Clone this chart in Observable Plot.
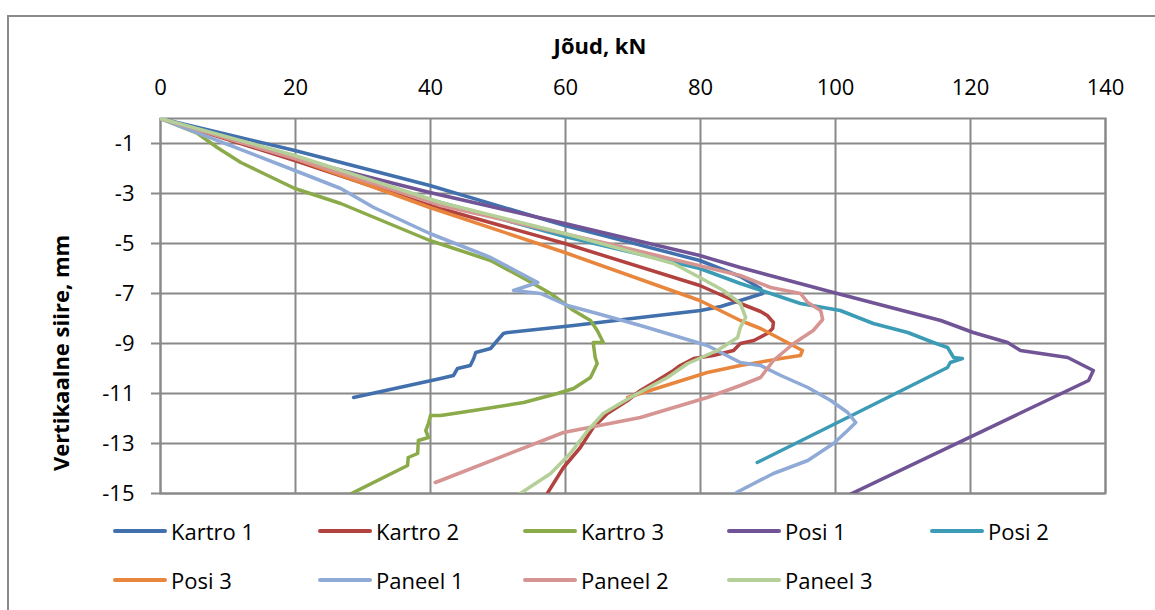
<!DOCTYPE html>
<html>
<head>
<meta charset="utf-8">
<script src="https://cdn.jsdelivr.net/npm/d3@7"></script>
<script src="https://cdn.jsdelivr.net/npm/@observablehq/plot@0.6"></script>
<style>
  html, body { margin: 0; padding: 0; background: #fff; overflow: hidden; width: 1155px; height: 610px; }
  body { position: relative; font-family: "Open Sans", sans-serif; color: #000; }
  #frame { position: absolute; left: 7px; top: 15px; width: 1300px; height: 800px; border: 2px solid #8a8a8a; box-sizing: border-box; }
  #chart { position: absolute; left: 0; top: 60px; }
  #xtitle { position: absolute; left: 0; width: 1200px; top: 30px; text-align: center; font-weight: bold; font-size: 22px; line-height: 30px; }
  #ytitle { position: absolute; left: 60px; top: 353px; transform: translate(-50%, -50%) rotate(-90deg); font-weight: bold; font-size: 22px; white-space: nowrap; line-height: 30px; }
  .leg { position: absolute; display: flex; align-items: center; font-size: 22px; line-height: 30px; white-space: nowrap; }
  .sw { width: 54px; height: 4px; margin-right: 4px; border-radius: 2px; }
</style>
</head>
<body>
<div id="frame"></div>
<div id="xtitle">Jõud, kN</div>
<div id="ytitle">Vertikaalne siire, mm</div>
<div id="chart"></div>
<div id="legend"></div>
<script>
// ---- data: [force kN, vertical displacement mm] ----
const seriesNames = ["Kartro 1", "Kartro 2", "Kartro 3", "Posi 1", "Posi 2", "Posi 3", "Paneel 1", "Paneel 2", "Paneel 3"];
const seriesColors = ["#4170ad", "#b2423f", "#8bab4a", "#705496", "#3c9cb6", "#e9863e", "#8faad6", "#d69492", "#b4cf97"];
const xTicks = [0, 20, 40, 60, 80, 100, 120, 140];
const yTicks = [-1, -3, -5, -7, -9, -11, -13, -15];

const kartro1 = [[0,0],[19.9,-1.28],[39.9,-2.68],[59.9,-4.28],[79.9,-5.68],[85.9,-6.32],[88.9,-6.8],[89.2,-7.0],[85.9,-7.28],[83.0,-7.52],[80.0,-7.68],[71.1,-7.96],[61.2,-8.28],[51.4,-8.56],[50.8,-8.6],[49.9,-8.88],[48.9,-9.2],[46.7,-9.36],[46.4,-9.6],[45.9,-9.88],[44.0,-10.0],[43.4,-10.28],[41.5,-10.4],[28.6,-11.16]];
const kartro2 = [[0,0],[19.9,-1.68],[39.9,-3.48],[59.9,-5.0],[79.9,-6.68],[85.9,-7.4],[88.9,-7.72],[89.9,-7.88],[90.8,-8.16],[90.7,-8.4],[89.9,-8.6],[87.9,-8.88],[85.9,-9.0],[84.9,-9.28],[81.9,-9.48],[79.0,-9.6],[77.0,-9.88],[76.0,-10.08],[73.6,-10.48],[71.1,-10.88],[69.2,-11.28],[66.2,-11.8],[64.1,-12.36],[62.2,-13.16],[59.7,-13.96],[57.3,-15.0],[56.7,-15.28]];
const kartro3 = [[0,0],[5.5,-0.6],[8.4,-1.16],[11.9,-1.76],[19.9,-2.8],[26.7,-3.4],[39.9,-4.88],[48.9,-5.68],[54.4,-6.48],[57.8,-7.0],[61.2,-7.68],[63.7,-8.08],[64.7,-8.48],[65.6,-8.96],[64.1,-8.96],[64.4,-9.56],[64.7,-9.8],[63.7,-10.36],[61.2,-10.8],[58.8,-11.0],[53.8,-11.36],[46.4,-11.68],[41.5,-11.88],[40.0,-11.88],[39.7,-12.2],[39.3,-12.48],[39.7,-12.76],[38.2,-12.88],[38.1,-13.4],[36.7,-13.56],[36.6,-13.88],[27.7,-15.08]];
const posi1 = [[0,0],[19.9,-1.6],[39.9,-2.96],[59.9,-4.2],[79.9,-5.48],[85.9,-5.96],[99.7,-6.96],[115.6,-8.08],[120.4,-8.56],[125.5,-8.96],[127.4,-9.28],[134.4,-9.56],[138.2,-10.08],[137.5,-10.48],[101.8,-15.08]];
const posi2 = [[0,0],[19.9,-1.52],[39.9,-3.24],[59.9,-4.72],[79.9,-6.0],[85.9,-6.6],[94.8,-7.4],[100.7,-7.68],[105.6,-8.2],[110.7,-8.56],[114.5,-8.96],[116.6,-9.16],[117.5,-9.56],[118.8,-9.6],[117.0,-9.76],[116.6,-9.96],[101.8,-11.96],[88.4,-13.76]];
const posi3 = [[0,0],[19.9,-1.6],[39.9,-3.56],[59.9,-5.36],[79.9,-7.28],[85.9,-8.08],[88.9,-8.4],[92.3,-8.88],[95.1,-9.28],[94.8,-9.48],[91.9,-9.6],[85.9,-9.88],[81.0,-10.16],[69.2,-11.16]];
const paneel1 = [[0,0],[19.9,-2.08],[26.7,-2.8],[31.6,-3.56],[39.9,-4.6],[48.9,-5.56],[55.9,-6.56],[52.3,-6.88],[56.3,-7.0],[60.3,-7.48],[64.7,-7.8],[71.1,-8.28],[81.0,-9.08],[85.9,-9.76],[88.9,-9.88],[91.9,-10.28],[95.9,-10.76],[99.3,-11.28],[101.8,-11.76],[103.0,-12.16],[101.8,-12.48],[99.7,-13.0],[95.9,-13.68],[90.8,-14.2],[85.9,-14.88],[84.1,-15.16]];
const paneel2 = [[0,0],[19.9,-1.6],[39.9,-3.32],[41.5,-3.48],[66.2,-5.0],[85.9,-6.28],[90.4,-6.76],[94.8,-7.0],[95.9,-7.36],[97.8,-7.68],[98.1,-8.04],[96.7,-8.48],[93.8,-9.0],[90.8,-9.68],[88.9,-10.36],[85.9,-10.68],[81.0,-11.16],[71.1,-11.96],[59.7,-12.56],[41.5,-14.48],[40.7,-14.56]];
const paneel3 = [[0,0],[19.9,-1.48],[41.5,-3.36],[59.9,-4.6],[76.0,-5.8],[79.9,-6.36],[83.4,-6.88],[85.9,-7.4],[86.7,-7.96],[85.9,-8.36],[85.5,-8.76],[82.5,-9.28],[78.1,-9.8],[75.1,-10.36],[69.6,-11.16],[65.6,-11.8],[63.3,-12.48],[60.7,-13.4],[57.8,-14.2],[53.3,-15.0],[52.1,-15.2]];

const seriesData = [kartro1, kartro2, kartro3, posi1, posi2, posi3, paneel1, paneel2, paneel3];

const rows = [];
seriesData.forEach((arr, i) => arr.forEach(([f, d]) => rows.push({series: seriesNames[i], force: f, disp: d})));

const gridColor = "#898989";
const chart = Plot.plot({
  width: 1155,
  height: 450,
  marginLeft: 160,
  marginRight: 50,
  marginTop: 58,
  marginBottom: 17,
  style: {fontFamily: "'Open Sans', sans-serif", fontSize: "22px", color: "#000", background: "transparent"},
  x: {domain: [0, 140]},
  y: {domain: [-15, 0]},
  color: {domain: seriesNames, range: seriesColors},
  marks: [
    Plot.gridX(xTicks, {stroke: gridColor, strokeOpacity: 1, strokeWidth: 2}),
    Plot.gridY(yTicks, {stroke: gridColor, strokeOpacity: 1, strokeWidth: 2}),
    Plot.frame({stroke: gridColor, strokeWidth: 2}),
    Plot.axisX({anchor: "top", ticks: xTicks, tickSize: 0, tickPadding: 24, label: null, tickFormat: d => String(d), fontSize: 22}),
    Plot.axisY({anchor: "left", ticks: yTicks, tickSize: 9, tickPadding: 17, label: null, tickFormat: d => String(d), stroke: gridColor, strokeWidth: 2, fontSize: 22}),
    Plot.line(rows, {x: "force", y: "disp", z: "series", stroke: "series", strokeWidth: 3.5, curve: "linear", clip: true, strokeLinejoin: "round", strokeLinecap: "round"})
  ]
});
document.getElementById("chart").appendChild(chart);

// legend
const legend = document.getElementById("legend");
const colX = [113, 318, 523, 727, 930];
const rowY = [531, 580];
seriesNames.forEach((name, i) => {
  const r = Math.floor(i / 5), c = i % 5;
  const item = document.createElement("div");
  item.className = "leg";
  item.style.left = colX[c] + "px";
  item.style.top = (rowY[r] - 15) + "px";
  const sw = document.createElement("div");
  sw.className = "sw";
  sw.style.background = seriesColors[i];
  const t = document.createElement("span");
  t.textContent = name;
  item.appendChild(sw);
  item.appendChild(t);
  legend.appendChild(item);
});
</script>
</body>
</html>
